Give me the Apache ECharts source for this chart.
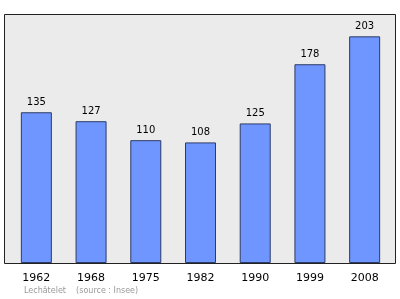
<!DOCTYPE html>
<html><head><meta charset="utf-8">
<script src="https://cdn.jsdelivr.net/npm/echarts@6/dist/echarts.min.js"></script>
<style>html,body{margin:0;padding:0;background:#fff}#c{width:400px;height:299px}</style>
</head><body><div id="c"></div>
<script>
const years = ['1962','1968','1975','1982','1990','1999','2008'];
const population = [135,127,110,108,125,178,203];
const footer = 'Lechâtelet    (source : Insee)';

const chart = echarts.init(document.getElementById('c'), null, {renderer:'canvas'});
chart.setOption({
  animation:false,
  backgroundColor:'#ffffff',
  graphic:[
    {type:'rect', z:-10, shape:{x:4.5,y:14.5,width:391,height:249}, style:{fill:'#ebebeb',stroke:'#222',lineWidth:1}},
    {type:'text', left:24, top:287, style:{text:footer, fill:'#999', font:'8px "DejaVu Sans"'}}
  ],
  grid:{left:9, right:8, top:14, bottom:36},
  xAxis:{type:'category', data:years,
    axisLine:{show:false}, axisTick:{show:false},
    axisLabel:{color:'#000', fontFamily:'DejaVu Sans', fontSize:11, margin:10}},
  yAxis:{type:'value', min:0, max:223, show:false, splitLine:{show:false}},
  series:[{type:'bar', data:population, barWidth:31,
    itemStyle:{color:'#6f96ff', borderColor:'#2c3a66', borderWidth:1},
    label:{show:true, position:'top', distance:5, color:'#000', fontFamily:'DejaVu Sans', fontSize:10}}]
});
</script></body></html>
